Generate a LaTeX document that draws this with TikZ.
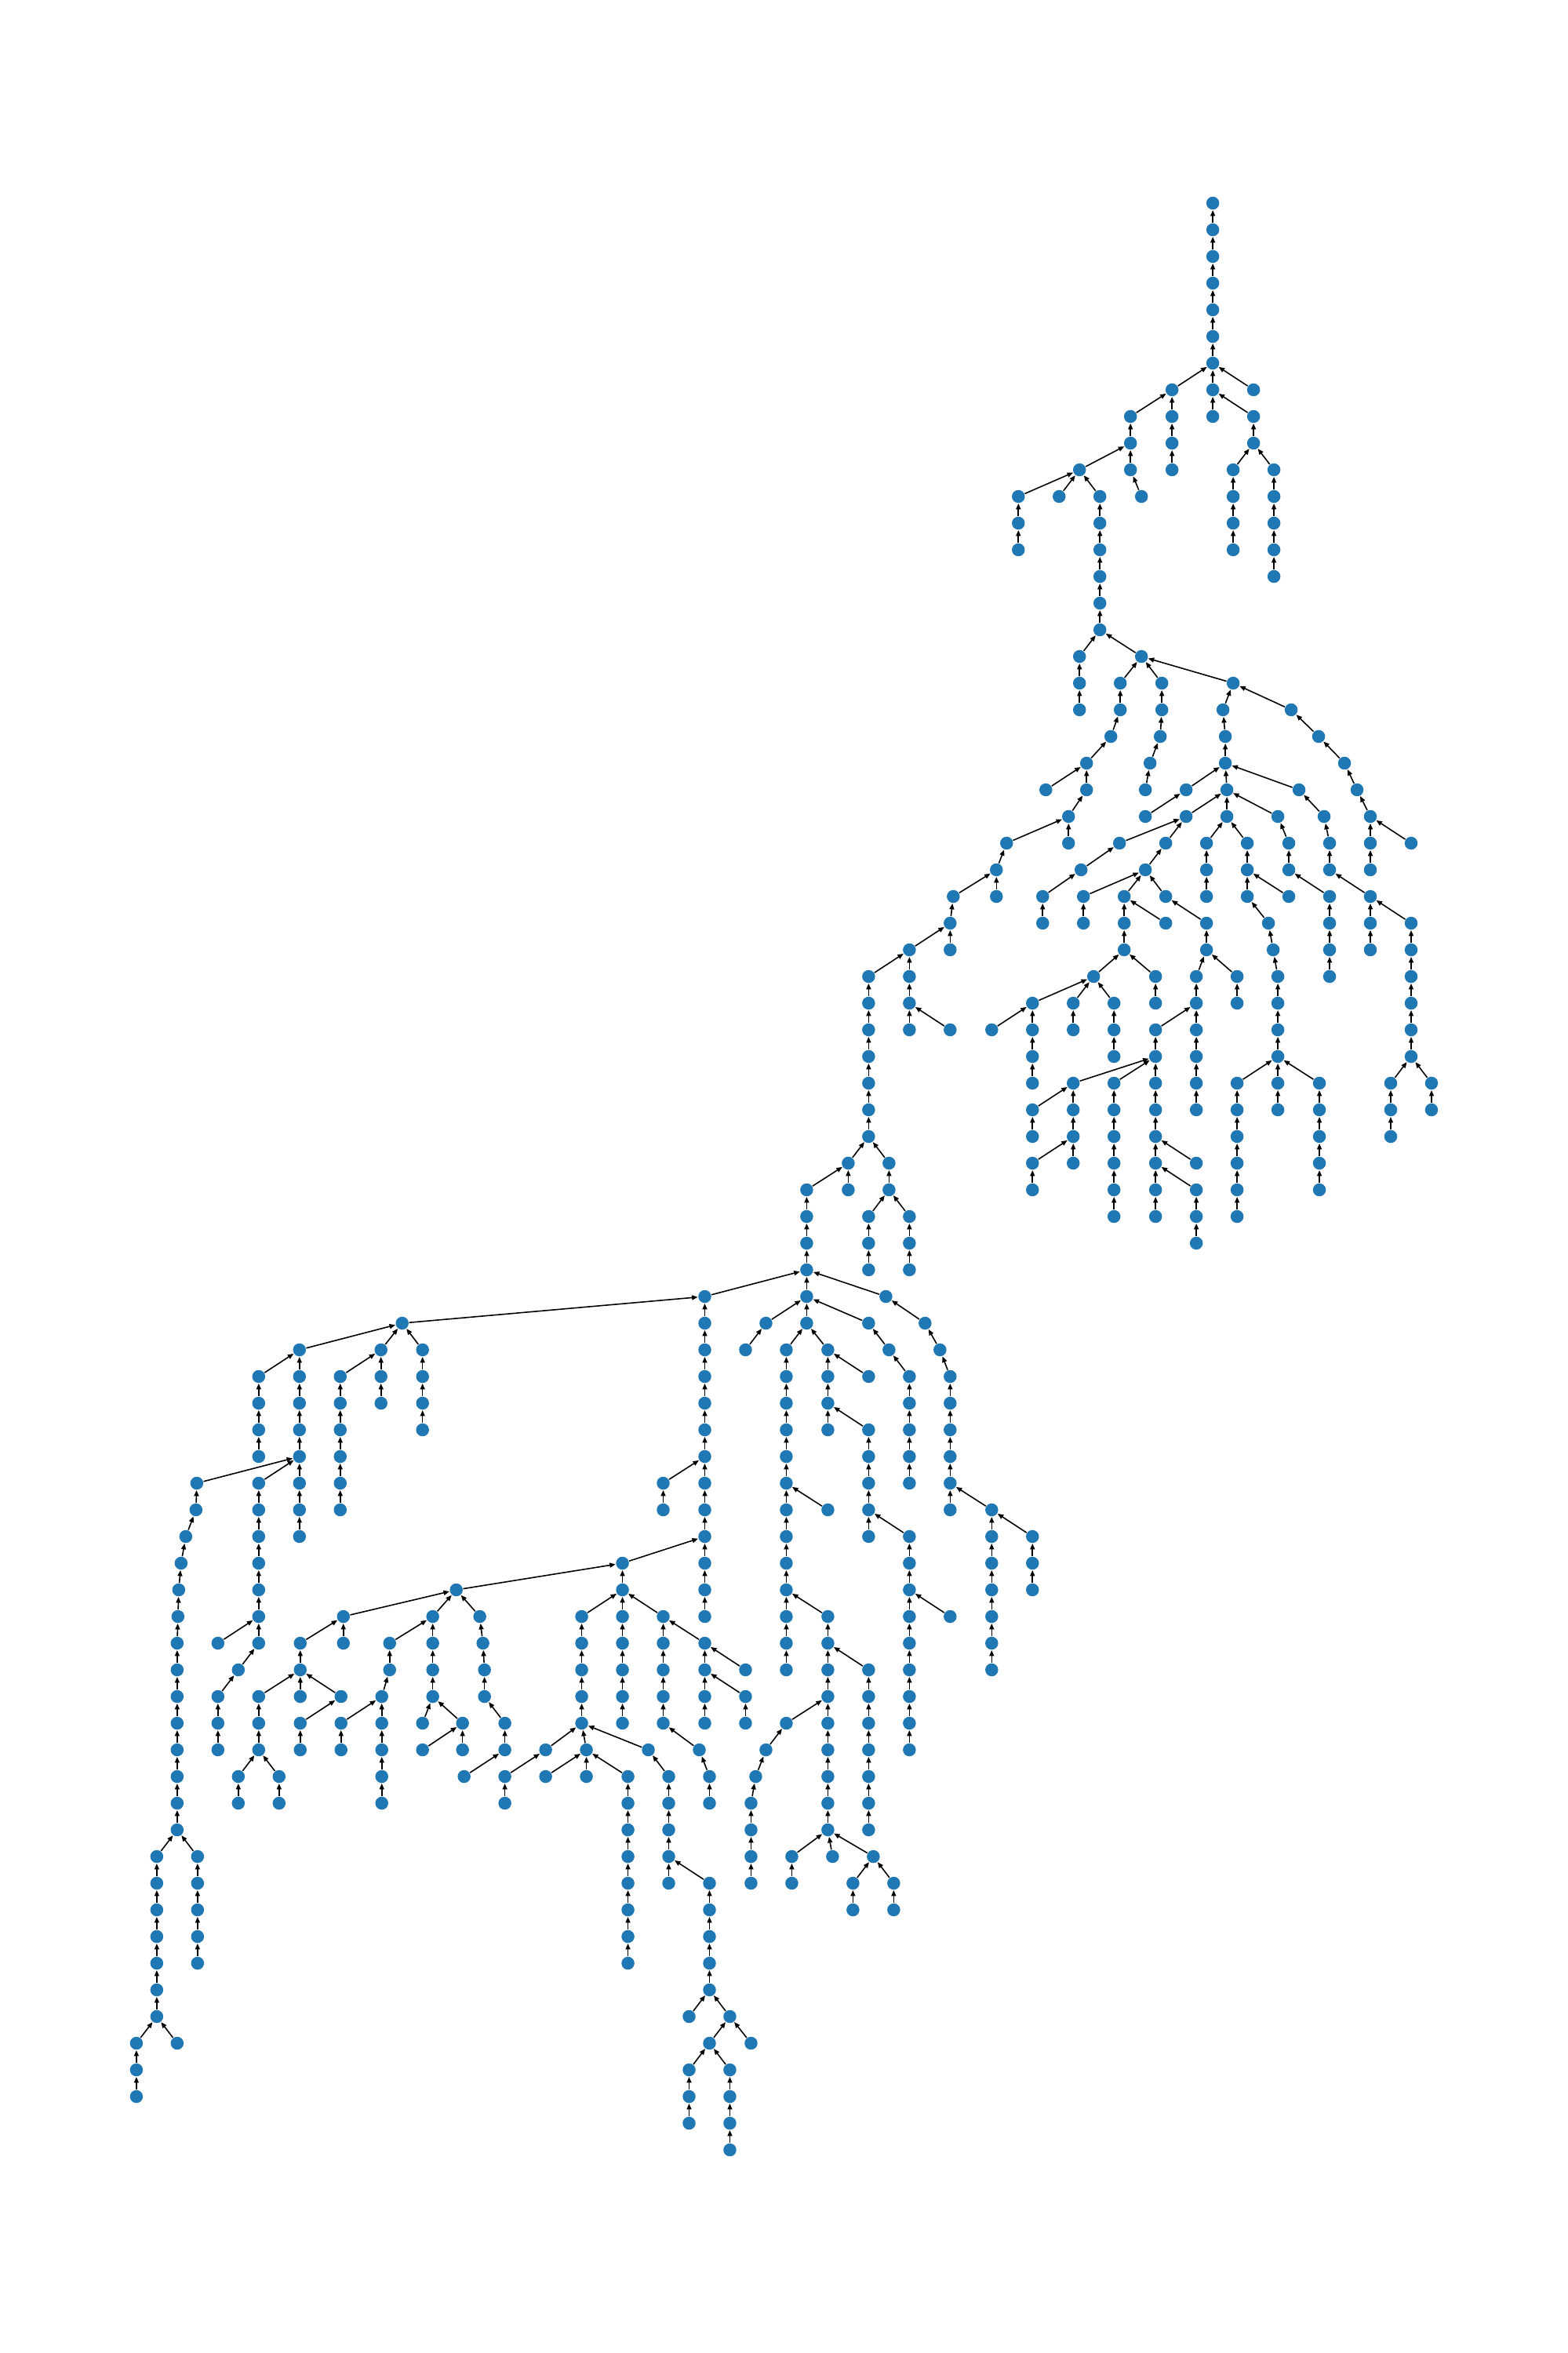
\documentclass[tikz,border=0pt]{standalone}
\usetikzlibrary{arrows.meta}
\definecolor{nodeblue}{RGB}{31,119,180}
\tikzset{
  v/.style={circle, fill=nodeblue, draw=none, inner sep=0pt, minimum size=0.165cm},
  e/.style={-{Triangle[length=0.075cm,width=0.06cm]}, line width=0.45pt, black}
}
\newcommand\gn[4]{\node[v] (v#1k#2) at (#1,#2) {}; \draw[e] (v#1k#2) -- (v#3k#4);}
\newcommand\gc[3]{\foreach \kk in {#2,...,#3}{\pgfmathtruncatemacro\pk{\kk-1}\gn{#1}{\kk}{#1}{\pk}}}
\begin{document}
\begin{tikzpicture}[x=0.01cm, y=-0.34cm]
\useasboundingbox (0,-7.6176) rectangle (2000,80.6176);
% top
\node[v] (v1547k0) at (1547,0) {};
\gc{1547}{1}{6}
\gn{1495}{7}{1547}{6} \gn{1547}{7}{1547}{6} \gn{1599}{7}{1547}{6}
\gn{1442}{8}{1495}{7} \gc{1495}{8}{10}
\gc{1442}{9}{10}
\gn{1377}{10}{1442}{9}
\gn{1456}{11}{1442}{10}
\gn{1299}{11}{1377}{10} \gc{1299}{12}{13}
\gn{1351}{11}{1377}{10}
\gn{1403}{11}{1377}{10} \gc{1403}{12}{16}
\gc{1547}{8}{8}
\gn{1599}{8}{1547}{7} \gc{1599}{9}{9}
\gn{1573}{10}{1599}{9} \gc{1573}{11}{13}
\gn{1625}{10}{1599}{9} \gc{1625}{11}{14}
% upper middle
\gn{1377}{17}{1403}{16} \gc{1377}{18}{19}
\gn{1456}{17}{1403}{16}
\gn{1429}{18}{1456}{17} \gc{1429}{19}{19}
\gn{1417}{20}{1429}{19}
\gn{1386}{21}{1417}{20}
\gn{1334}{22}{1386}{21}
\gc{1386}{22}{22}
\gn{1363}{23}{1386}{22} \gc{1363}{24}{24}
\gn{1284}{24}{1363}{23}
\gn{1271}{25}{1284}{24} \gc{1271}{26}{26}
\gn{1216}{26}{1271}{25}
\gn{1212}{27}{1216}{26} \gc{1212}{28}{28}
\gn{1160}{28}{1212}{27} \gc{1160}{29}{31}
\gn{1212}{31}{1160}{30}
\gn{1108}{29}{1160}{28} \gc{1108}{30}{35}
\gn{1082}{36}{1108}{35} \gc{1082}{37}{37}
\gn{1134}{36}{1108}{35} \gc{1134}{37}{37}
\gn{1029}{37}{1082}{36} \gc{1029}{38}{42}
\gn{1108}{38}{1134}{37} \gc{1108}{39}{40}
\gn{1160}{38}{1134}{37} \gc{1160}{39}{40}
% right cluster
\gn{1482}{18}{1456}{17} \gc{1482}{19}{19}
\gn{1480}{20}{1482}{19}
\gn{1467}{21}{1480}{20}
\gn{1461}{22}{1467}{21}
\gn{1573}{18}{1456}{17}
\gn{1560}{19}{1573}{18}
\gn{1563}{20}{1560}{19} \gc{1563}{21}{21}
\gn{1513}{22}{1563}{21}
\gn{1461}{23}{1513}{22}
\gn{1565}{22}{1563}{21} \gc{1565}{23}{23}
\gn{1657}{22}{1563}{21}
\gn{1513}{23}{1565}{22}
\gn{1630}{23}{1565}{22}
\gn{1428}{24}{1513}{23}
\gn{1379}{25}{1428}{24}
\gn{1330}{26}{1379}{25} \gc{1330}{27}{27}
\gn{1487}{24}{1513}{23}
\gn{1461}{25}{1487}{24}
\gn{1382}{26}{1461}{25} \gc{1382}{27}{27}
\gn{1434}{26}{1461}{25} \gc{1434}{27}{28}
\gn{1487}{26}{1461}{25}
\gn{1487}{27}{1434}{26}
\gn{1539}{27}{1487}{26} \gc{1539}{28}{28}
\gn{1539}{24}{1565}{23} \gc{1539}{25}{26}
\gn{1591}{24}{1565}{23} \gc{1591}{25}{26}
\gn{1644}{26}{1591}{25}
\gn{1618}{27}{1591}{26}
\gn{1624}{28}{1618}{27}
\gn{1644}{24}{1630}{23} \gc{1644}{25}{25}
\gn{1696}{26}{1644}{25} \gc{1696}{27}{29}
\gn{1689}{23}{1657}{22}
\gn{1696}{24}{1689}{23} \gc{1696}{25}{25}
\gn{1748}{26}{1696}{25} \gc{1748}{27}{28}
\gn{1800}{27}{1748}{26} \gc{1800}{28}{32}
\gn{1647}{19}{1573}{18}
\gn{1682}{20}{1647}{19}
\gn{1715}{21}{1682}{20}
\gn{1731}{22}{1715}{21}
\gn{1748}{23}{1731}{22} \gc{1748}{24}{25}
\gn{1800}{24}{1748}{23}
% lower right cluster
\gn{1395}{29}{1434}{28}
\gn{1474}{29}{1434}{28} \gc{1474}{30}{30}
\gn{1317}{30}{1395}{29} \gc{1317}{31}{33}
\gn{1265}{31}{1317}{30}
\gn{1369}{30}{1395}{29} \gc{1369}{31}{31}
\gn{1421}{30}{1395}{29} \gc{1421}{31}{32}
\gn{1526}{29}{1539}{28} \gc{1526}{30}{34}
\gn{1578}{29}{1539}{28} \gc{1578}{30}{30}
\gn{1474}{31}{1526}{30} \gc{1474}{32}{35}
\gn{1369}{33}{1474}{32} \gc{1369}{34}{36}
\gn{1317}{34}{1369}{33} \gc{1317}{35}{35}
\gn{1317}{36}{1369}{35} \gc{1317}{37}{37}
\gn{1421}{33}{1474}{32} \gc{1421}{34}{38}
\gn{1526}{36}{1474}{35}
\gc{1474}{36}{38}
\gn{1526}{37}{1474}{36} \gc{1526}{38}{39}
\gn{1630}{29}{1624}{28} \gc{1630}{30}{34}
\gn{1578}{33}{1630}{32} \gc{1578}{34}{38}
\gn{1683}{33}{1630}{32} \gc{1683}{34}{37}
\gn{1774}{33}{1800}{32} \gc{1774}{34}{35}
\gn{1826}{33}{1800}{32} \gc{1826}{34}{34}
% bottom: long stem
\gn{899}{41}{1029}{40} \gc{899}{42}{53}
\gn{1130}{41}{1029}{40}
\gn{513}{42}{899}{41}
\gn{846}{48}{899}{47} \gc{846}{49}{49}
\gn{794}{51}{899}{50} \gc{794}{52}{57}
\gn{582}{52}{794}{51}
\gn{742}{53}{794}{52} \gc{742}{54}{57}
\gn{846}{53}{794}{52} \gc{846}{54}{57}
\gn{696}{58}{742}{57}
\gn{748}{58}{742}{57} \gc{748}{59}{59}
\gn{827}{58}{742}{57}
\gn{644}{59}{696}{58} \gc{644}{60}{60}
\gn{696}{59}{748}{58}
\gn{801}{59}{748}{58} \gc{801}{60}{66}
\gn{853}{59}{827}{58} \gc{853}{60}{63}
\gn{905}{63}{853}{62} \gc{905}{64}{67}
\gn{879}{68}{905}{67}
\gn{931}{68}{905}{67}
\gn{905}{69}{931}{68}
\gn{958}{69}{931}{68}
\gn{879}{70}{905}{69} \gc{879}{71}{72}
\gn{931}{70}{905}{69} \gc{931}{71}{73}
\gn{892}{58}{846}{57}
\gn{905}{59}{892}{58} \gc{905}{60}{60}
\gn{899}{54}{846}{53} \gc{899}{55}{57}
\gn{951}{55}{899}{54}
\gn{951}{56}{899}{55} \gc{951}{57}{57}
% bottom left-middle
\gn{438}{53}{582}{52} \gc{438}{54}{54}
\gn{552}{53}{582}{52} \gc{552}{54}{56}
\gn{612}{53}{582}{52}
\gn{383}{54}{438}{53} \gc{383}{55}{56}
\gn{330}{56}{383}{55} \gc{330}{57}{58}
\gn{435}{56}{383}{55}
\gn{304}{59}{330}{58} \gc{304}{60}{60}
\gn{356}{59}{330}{58} \gc{356}{60}{60}
\gn{383}{57}{435}{56} \gc{383}{58}{58}
\gn{497}{54}{552}{53} \gc{497}{55}{55}
\gn{487}{56}{497}{55} \gc{487}{57}{60}
\gn{435}{57}{487}{56} \gc{435}{58}{58}
\gn{539}{57}{552}{56}
\gn{590}{57}{552}{56} \gc{590}{58}{58}
\gn{539}{58}{590}{57}
\gn{616}{54}{612}{53}
\gn{618}{55}{616}{54} \gc{618}{56}{56}
\gn{644}{57}{618}{56} \gc{644}{58}{58}
\gn{592}{59}{644}{58}
% upper left
\gn{382}{43}{513}{42} \gc{382}{44}{50}
\gn{486}{43}{513}{42} \gc{486}{44}{45}
\gn{539}{43}{513}{42} \gc{539}{44}{46}
\gn{330}{44}{382}{43} \gc{330}{45}{47}
\gn{251}{48}{382}{47}
\gn{330}{48}{382}{47} \gc{330}{49}{54}
\gn{278}{54}{330}{53}
\gn{304}{55}{330}{54}
\gn{278}{56}{304}{55} \gc{278}{57}{58}
\gn{250}{49}{251}{48}
\gn{237}{50}{250}{49}
\gn{231}{51}{237}{50}
\gn{228}{52}{231}{51}
\gn{227}{53}{228}{52}
\gn{226}{54}{227}{53} \gc{226}{55}{61}
\gn{200}{62}{226}{61} \gc{200}{63}{68}
\gn{252}{62}{226}{61} \gc{252}{63}{66}
\gn{174}{69}{200}{68} \gc{174}{70}{71}
\gn{226}{69}{200}{68}
\gn{434}{44}{486}{43} \gc{434}{45}{49}
% middle
\gn{977}{42}{1029}{41}
\gn{951}{43}{977}{42}
\gn{1108}{42}{1029}{41}
\gn{1003}{43}{1029}{42} \gc{1003}{44}{55}
\gn{1056}{43}{1029}{42} \gc{1056}{44}{46}
\gn{1056}{49}{1003}{48}
\gn{1056}{53}{1003}{52} \gc{1056}{54}{61}
\gn{1108}{55}{1056}{54} \gc{1108}{56}{61}
\gn{1003}{57}{1056}{56}
\gn{977}{58}{1003}{57}
\gn{964}{59}{977}{58}
\gn{958}{60}{964}{59} \gc{958}{61}{63}
\gn{1010}{62}{1056}{61} \gc{1010}{63}{63}
\gn{1062}{62}{1056}{61}
\gn{1114}{62}{1056}{61}
\gn{1088}{63}{1114}{62} \gc{1088}{64}{64}
\gn{1140}{63}{1114}{62} \gc{1140}{64}{64}
\gn{1108}{44}{1056}{43}
\gn{1108}{46}{1056}{45} \gc{1108}{47}{50}
\gn{1160}{50}{1108}{49} \gc{1160}{51}{58}
\gn{1212}{53}{1160}{52}
\gn{1134}{43}{1108}{42}
\gn{1160}{44}{1134}{43} \gc{1160}{45}{48}
\gn{1180}{42}{1130}{41}
\gn{1199}{43}{1180}{42}
\gn{1212}{44}{1199}{43} \gc{1212}{45}{49}
\gn{1265}{49}{1212}{48} \gc{1265}{50}{55}
\gn{1317}{50}{1265}{49} \gc{1317}{51}{52}
\end{tikzpicture}
\end{document}
